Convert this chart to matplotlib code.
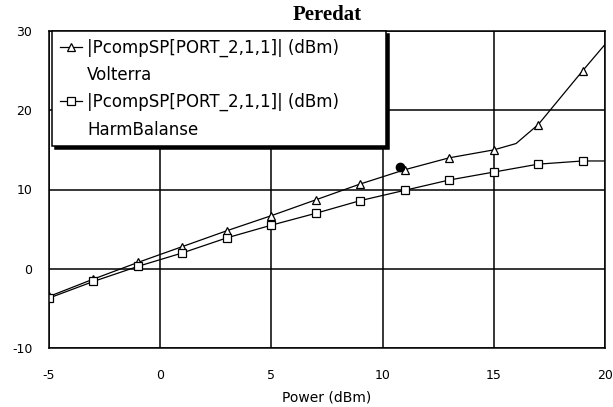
import matplotlib.pyplot as plt
from matplotlib.lines import Line2D

# curve samples (markers sit on the odd powers)
vol_x = [-5, -3, -1, 1, 3, 5, 7, 9, 11, 13, 15, 16, 17, 19, 20]
vol_y = [-3.5, -1.3, 0.8, 2.8, 4.8, 6.7, 8.7, 10.7, 12.5, 14.0, 15.0, 15.8, 18.2, 25.0, 28.3]
hb_x = [-5, -3, -1, 1, 3, 5, 7, 9, 11, 13, 15, 17, 19, 20]
hb_y = [-3.7, -1.6, 0.3, 2.0, 3.9, 5.5, 7.0, 8.6, 9.9, 11.2, 12.2, 13.2, 13.6, 13.6]
marker_x = [-5, -3, -1, 1, 3, 5, 7, 9, 11, 13, 15, 17, 19]
dot_x = [10.8]
dot_y = [12.9]

xticks = [-5, 0, 5, 10, 15, 20]
yticks = [-10, 0, 10, 20, 30]
label = '|PcompSP[PORT_2,1,1]| (dBm)'

plt.rcParams['font.family'] = 'DejaVu Sans'
plt.rcParams['axes.unicode_minus'] = False

fig = plt.figure(figsize=(6.13, 4.07), dpi=100)
ax = fig.add_axes([49/613, 1-348/407, 556/613, 317/407])

vol_marks = [i for i, x in enumerate(vol_x) if x in marker_x]
hb_marks = [i for i, x in enumerate(hb_x) if x in marker_x]

l1, = ax.plot(vol_x, vol_y, color='k', lw=0.9, marker='^', markevery=vol_marks,
              ms=6, mfc='white', mec='k', mew=0.9)
l2, = ax.plot(hb_x, hb_y, color='k', lw=0.9, marker='s', markevery=hb_marks,
              ms=5.5, mfc='white', mec='k', mew=0.9)
ax.plot(dot_x, dot_y, 'o', color='k', ms=6)

ax.set_xlim(-5, 20)
ax.set_ylim(-10, 30)
ax.set_xticks(xticks)
ax.set_yticks(yticks)
ax.grid(True, color='k', lw=1.1)
ax.tick_params(length=0, labelsize=9)
ax.tick_params(axis='x', pad=15)
ax.tick_params(axis='y', pad=12)
for s in ax.spines.values():
    s.set_linewidth(1.1)

ax.set_xlabel('Power (dBm)', fontsize=10, labelpad=6)
ax.set_title('Peredat', fontsize=15, fontweight='bold', family='Liberation Serif', pad=8)

blank = Line2D([], [], color='none')
leg = ax.legend([l1, blank, l2, blank], [label, 'Volterra', label, 'HarmBalanse'],
                loc='upper left', bbox_to_anchor=(0.006, 0.0, 0.6, 1.0), mode='expand',
                borderaxespad=0, fontsize=12, handlelength=1.3, handletextpad=0.35,
                labelspacing=0.55, borderpad=0.45, fancybox=False, framealpha=1,
                edgecolor='k', shadow=dict(color='k', alpha=1))
leg.get_frame().set_linewidth(1.1)

fig.savefig('out.png', dpi=100)
